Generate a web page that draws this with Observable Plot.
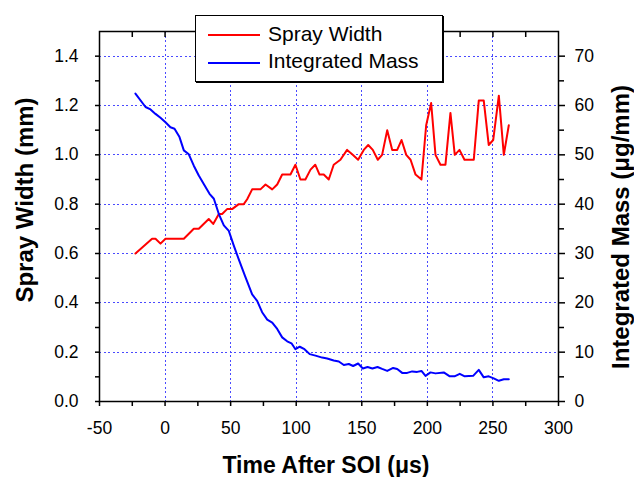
<!DOCTYPE html>
<html>
<head>
<meta charset="utf-8">
<script src="https://cdn.jsdelivr.net/npm/d3@7"></script>
<script src="https://cdn.jsdelivr.net/npm/@observablehq/plot@0.6"></script>
<style>
  body { margin: 0; background: #fff; }
  #wrap { position: relative; width: 634px; height: 477px; font-family: "Liberation Sans", Arial, sans-serif; color: #000; }
  #chart svg { display: block; }
  .title { position: absolute; font-weight: bold; white-space: nowrap; line-height: 1; }
  #xtitle { font-size: 23px; left: 326px; top: 454px; transform: translateX(-50%); }
  #ytitle { font-size: 24px; left: 24.7px; top: 200px; transform: translate(-50%, -50%) rotate(-90deg); }
  #y2title { font-size: 24px; left: 620.7px; top: 226.5px; transform: translate(-50%, -50%) rotate(-90deg); }
  #legend { position: absolute; left: 195px; top: 15px; width: 246px; height: 65px; border: 1.5px solid #000; background: #fff; box-shadow: 1px 1px 0 #000; }
  #legend .sw { position: absolute; left: 12px; width: 52px; height: 2px; }
  #legend .lt { position: absolute; left: 72px; font-size: 21px; line-height: 1; white-space: nowrap; }
</style>
</head>
<body>
<div id="wrap">
  <div id="chart"></div>
  <div id="legend"></div>
  <div class="title" id="xtitle"></div>
  <div class="title" id="ytitle"></div>
  <div class="title" id="y2title"></div>
</div>
<script>
// ---- data ----
const sprayTime = [-22.6, -9.9, -7.3, -3.5, 0.3, 14.3, 21.9, 25.7, 33.3, 36.7, 41, 43.5, 47.3, 51.1, 56.2, 60, 62.6, 66.4, 72.7, 76.6, 81.7, 85.5, 89.3, 95.6, 99.4, 103.2, 107, 110.9, 114.5, 117.8, 121, 124.8, 128.6, 133.7, 138.8, 143.1, 147.2, 151.5, 154.9, 158.4, 162.2, 165.5, 169.4, 173.2, 177, 180.3, 183.9, 187.2, 191, 195.5, 199.1, 202.9, 206.2, 210, 213.8, 217.6, 220.9, 224.5, 228.3, 235.4, 239.2, 243, 246.8, 250.2, 254.5, 258.3, 262.1];
const sprayWidth = [0.60, 0.66, 0.66, 0.64, 0.66, 0.66, 0.70, 0.70, 0.74, 0.72, 0.76, 0.76, 0.78, 0.78, 0.80, 0.80, 0.82, 0.86, 0.86, 0.88, 0.86, 0.88, 0.92, 0.92, 0.96, 0.90, 0.90, 0.94, 0.96, 0.92, 0.92, 0.90, 0.96, 0.98, 1.02, 1.00, 0.98, 1.02, 1.04, 1.02, 0.98, 1.00, 1.10, 1.02, 1.02, 1.06, 1.00, 0.98, 0.92, 0.90, 1.12, 1.21, 1.00, 0.96, 0.96, 1.17, 1.00, 1.02, 0.98, 0.98, 1.22, 1.22, 1.04, 1.06, 1.24, 1.00, 1.12];

const massTime = [-22.6, -14.9, -11.1, -7.3, -3.5, 0.3, 4.1, 7.2, 11, 14.3, 18.1, 21.9, 25.7, 29.5, 33.9, 37.2, 41, 44.8, 48.6, 52.4, 56.2, 61, 66.4, 70.2, 74, 77.9, 81.7, 85.5, 89.3, 93.1, 96.4, 99.4, 102.7, 106.3, 110.3, 114.7, 119.8, 123.6, 128.6, 132.5, 136.3, 140.1, 143.4, 147.2, 150.8, 154.4, 158.1, 162, 165.5, 169.4, 173.9, 177, 180.8, 184.6, 188.4, 192.2, 195.5, 198.6, 202.4, 206.2, 212.5, 217.1, 220.7, 224.7, 228.5, 234.9, 239.2, 243, 246.8, 250.6, 254.5, 258.3, 262.1];
const massValue = [62.4, 59.7, 59.2, 58.3, 57.5, 56.6, 55.6, 55.3, 53.6, 50.9, 50.1, 47.8, 45.8, 44.1, 42.1, 41.1, 38.0, 35.7, 34.6, 31.6, 28.8, 25.4, 21.7, 20.4, 18.1, 16.6, 16.0, 14.7, 13.0, 12.2, 11.8, 10.6, 11.1, 10.6, 9.6, 9.3, 8.9, 8.7, 8.3, 8.1, 7.4, 7.6, 7.2, 7.7, 6.7, 7.0, 6.7, 7.0, 6.6, 6.2, 6.8, 6.6, 5.8, 5.8, 6.1, 6.0, 6.2, 5.2, 5.9, 5.7, 5.9, 5.1, 5.1, 5.6, 5.1, 5.2, 6.4, 4.9, 5.1, 4.7, 4.2, 4.5, 4.5];

const xTicks = [-50, 0, 50, 100, 150, 200, 250, 300];
const xMinorTicks = [-25, 25, 75, 125, 175, 225, 275];
const xGridTicks = [0, 50, 100, 150, 200, 250];
const leftTicks = [0.0, 0.2, 0.4, 0.6, 0.8, 1.0, 1.2, 1.4];
const leftMinorTicks = [0.1, 0.3, 0.5, 0.7, 0.9, 1.1, 1.3];
const yGridTicks = [0.2, 0.4, 0.6, 0.8, 1.0, 1.2, 1.4];
const rightTicks = [0, 10, 20, 30, 40, 50, 60, 70];
const rightMinorTicks = [5, 15, 25, 35, 45, 55, 65];
const massPerMm = 50; // right axis units per left axis unit

const seriesNames = ["Spray Width", "Integrated Mass"];
const seriesColors = ["#ff0000", "#0000ff"];
const xTitle = "Time After SOI (μs)";
const yTitle = "Spray Width (mm)";
const y2Title = "Integrated Mass (μg/mm)";

// ---- build ----
const spray = sprayTime.map((t, i) => ({t, v: sprayWidth[i]}));
const mass = massTime.map((t, i) => ({t, v: massValue[i] / massPerMm}));
const gridStyle = {stroke: "#4a4aff", strokeOpacity: 1, strokeWidth: 1, strokeDasharray: "2,2.5", shapeRendering: "crispEdges"};
const blank = () => "";

const chart = Plot.plot({
  width: 634,
  height: 477,
  marginLeft: 99,
  marginRight: 76,
  marginTop: 31,
  marginBottom: 76,
  x: {domain: [-50, 300], label: null},
  y: {domain: [0, 1.5], label: null},
  style: {fontFamily: "'Liberation Sans', Arial, sans-serif", fontSize: "17.5px", background: "white", color: "black", overflow: "visible"},
  marks: [
    Plot.gridX(xGridTicks, gridStyle),
    Plot.gridY(yGridTicks, gridStyle),
    Plot.line(spray, {x: "t", y: "v", stroke: seriesColors[0], strokeWidth: 2}),
    Plot.line(mass, {x: "t", y: "v", stroke: seriesColors[1], strokeWidth: 2}),
    Plot.frame({stroke: "black", strokeWidth: 1.5}),
    Plot.axisX({ticks: xTicks, tickSize: 5, tickPadding: 15, strokeWidth: 1.5, tickFormat: d => String(d), label: null}),
    Plot.axisX({ticks: xMinorTicks, tickSize: 5, strokeWidth: 1.5, tickFormat: blank, label: null}),
    Plot.axisX({anchor: "top", ticks: xMinorTicks.concat(xGridTicks), tickSize: -5, strokeWidth: 1.5, tickFormat: blank, label: null}),
    Plot.axisY({ticks: leftTicks, tickSize: 4, tickPadding: 17, strokeWidth: 1.5, tickFormat: d => d.toFixed(1), label: null}),
    Plot.axisY({ticks: leftMinorTicks, tickSize: 4, strokeWidth: 1.5, tickFormat: blank, label: null}),
    Plot.axisY({anchor: "right", ticks: rightTicks.map(v => v / massPerMm), tickSize: 6, tickPadding: 10, strokeWidth: 1.5, tickFormat: d => String(Math.round(d * massPerMm)), label: null}),
    Plot.axisY({anchor: "right", ticks: rightMinorTicks.map(v => v / massPerMm), tickSize: 5, strokeWidth: 1.5, tickFormat: blank, label: null})
  ]
});
document.getElementById("chart").appendChild(chart);

// legend
const legend = document.getElementById("legend");
const swatchTops = [17.5, 45.5];
const textTops = [6.5, 34];
seriesNames.forEach((name, i) => {
  const sw = document.createElement("div");
  sw.className = "sw";
  sw.style.top = swatchTops[i] + "px";
  sw.style.background = seriesColors[i];
  legend.appendChild(sw);
  const lt = document.createElement("div");
  lt.className = "lt";
  lt.style.top = textTops[i] + "px";
  lt.textContent = name;
  legend.appendChild(lt);
});
document.getElementById("xtitle").textContent = xTitle;
document.getElementById("ytitle").textContent = yTitle;
document.getElementById("y2title").textContent = y2Title;
</script>
</body>
</html>
